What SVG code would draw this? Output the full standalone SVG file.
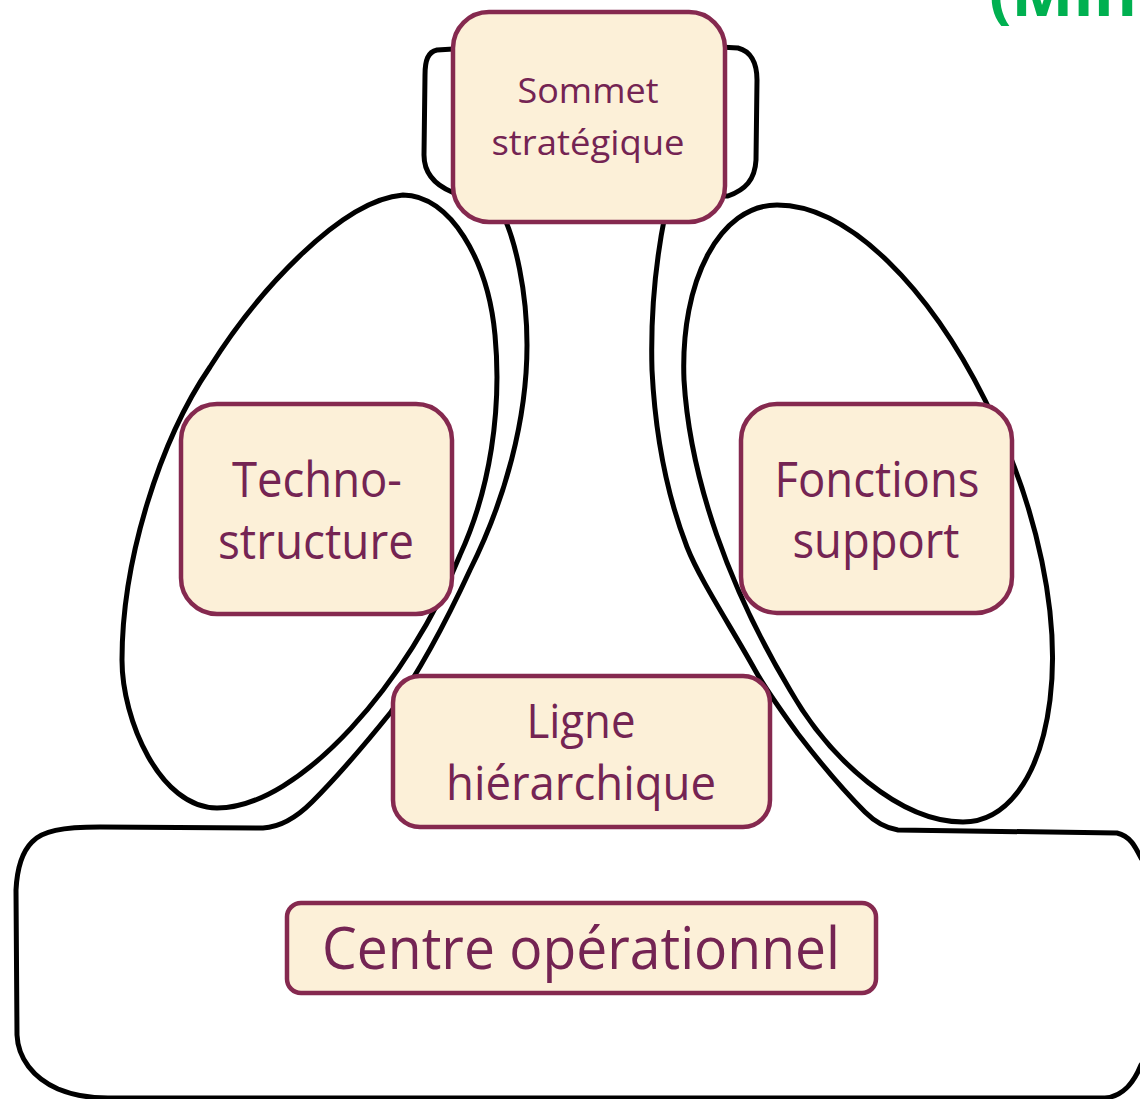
<svg xmlns="http://www.w3.org/2000/svg" width="1140" height="1099" viewBox="0 0 1140 1099">
  <style>
    .outline { fill: none; stroke: #000; stroke-width: 5; stroke-linejoin: round; stroke-linecap: round; }
    .box { fill: #FCF0D8; stroke: #85294F; stroke-width: 4.5; }
    .lbl { font-family: "Open Sans", "Liberation Sans", sans-serif; fill: #742453; text-anchor: middle; }
    .title { font-family: "Open Sans", "Liberation Sans", sans-serif; font-weight: bold; fill: #00B050; }
  </style>

  <rect width="1140" height="1099" fill="#fff"/>

  <!-- heading, running off the right edge -->
  <text class="title" x="989" y="16" font-size="66">(Min</text>

  <!-- organisation silhouette and the two staff lobes -->
  <g id="connectors">
    <path id="silhouette" class="outline" d="
      M470,48 L437,50 C428,52 425,60 425,75 L424,155 C424,172 433,184 452,192 L470,196
      L503,215
      C515,240 527,290 527,345 C527,420 505,500 470,570 C440,635 410,685 391,712
      C362,748 332,782 312,802 C298,816 282,827 263,828
      L100,827 C62,827 42,831 32,842 C21,853 17,870 16,890
      L17,1035 C18,1058 33,1078 58,1089 C75,1096 92,1098 108,1098
      L1105,1098 C1124,1096 1134,1082 1141,1065 L1160,1040 L1160,880
      L1141,858 C1135,846 1130,836 1117,833
      L898,830 C885,828 875,822 865,812 C845,792 818,760 798,734 C782,712 766,690 755,670
      C730,625 700,580 687,547 C665,490 655,430 652,370 C650,300 658,250 665,215
      L720,196 L728,196 C745,190 755,180 756,160 L757,80 C757,62 750,51 738,48 L720,47 Z"/>
    <path id="lobe-left" class="outline" d="
      M403,195 C450,195 488,260 495,335 C502,410 490,490 460,555
      C410,680 300,808 217,808 C160,808 122,720 122,660
      C122,560 160,440 210,367 C255,295 340,200 403,195 Z"/>
    <path id="lobe-right" class="outline" d="
      M777,205 C850,205 930,290 985,400 C1040,510 1060,620 1050,700
      C1040,780 1005,822 963,822 C900,822 830,760 790,690
      C730,590 690,480 684,380 C680,280 720,205 777,205 Z"/>
  </g>

  <g id="sommet-strategique">
    <rect class="box" x="453" y="12" width="272" height="210" rx="36"/>
    <text class="lbl" x="588" y="103" font-size="35" textLength="141" lengthAdjust="spacingAndGlyphs">Sommet</text>
    <text class="lbl" x="588" y="155" font-size="35" textLength="193" lengthAdjust="spacingAndGlyphs">stratégique</text>
  </g>

  <g id="technostructure">
    <rect class="box" x="181" y="404" width="271" height="210" rx="36"/>
    <text class="lbl" x="317" y="497" font-size="49" textLength="170" lengthAdjust="spacingAndGlyphs">Techno-</text>
    <text class="lbl" x="316" y="559" font-size="49" textLength="196" lengthAdjust="spacingAndGlyphs">structure</text>
  </g>

  <g id="fonctions-support">
    <rect class="box" x="741" y="404" width="271" height="209" rx="36"/>
    <text class="lbl" x="877" y="497" font-size="49" textLength="205" lengthAdjust="spacingAndGlyphs">Fonctions</text>
    <text class="lbl" x="876" y="558" font-size="49" textLength="167" lengthAdjust="spacingAndGlyphs">support</text>
  </g>

  <g id="ligne-hierarchique">
    <rect class="box" x="393" y="676" width="377" height="151" rx="27"/>
    <text class="lbl" x="581" y="738" font-size="48" textLength="109" lengthAdjust="spacingAndGlyphs">Ligne</text>
    <text class="lbl" x="581" y="800" font-size="48" textLength="270" lengthAdjust="spacingAndGlyphs">hiérarchique</text>
  </g>

  <g id="centre-operationnel">
    <rect class="box" x="287" y="903" width="589" height="90" rx="14"/>
    <text class="lbl" x="581" y="969" font-size="59" textLength="518" lengthAdjust="spacingAndGlyphs">Centre opérationnel</text>
  </g>
</svg>
